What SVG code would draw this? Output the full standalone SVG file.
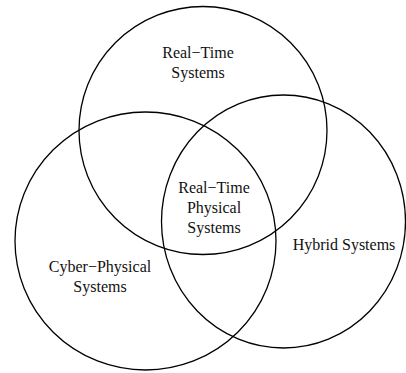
<svg xmlns="http://www.w3.org/2000/svg" width="406" height="373" viewBox="0 0 406 373">
<style>
.c{fill:none;stroke:#000;stroke-width:1.3}
text{font-family:"Liberation Serif","Times New Roman",serif;font-size:16px;fill:#111;text-anchor:middle}
</style>
<rect width="406" height="373" fill="#fff"/>
<g id="real-time">
<circle class="c" cx="203" cy="130.5" r="124"/>
<text x="198" y="58">Real−Time</text>
<text x="198" y="78">Systems</text>
</g>
<g id="cyber-physical">
<ellipse class="c" cx="145.5" cy="241" rx="130.5" ry="129"/>
<text x="100" y="272">Cyber−Physical</text>
<text x="100" y="292">Systems</text>
</g>
<g id="hybrid">
<ellipse class="c" cx="283.5" cy="221.5" rx="122" ry="126.5"/>
<text x="344" y="250">Hybrid Systems</text>
</g>
<g id="intersection">
<text x="214" y="193">Real−Time</text>
<text x="214" y="213">Physical</text>
<text x="214" y="233">Systems</text>
</g>
<g id="connectors"></g>
</svg>
